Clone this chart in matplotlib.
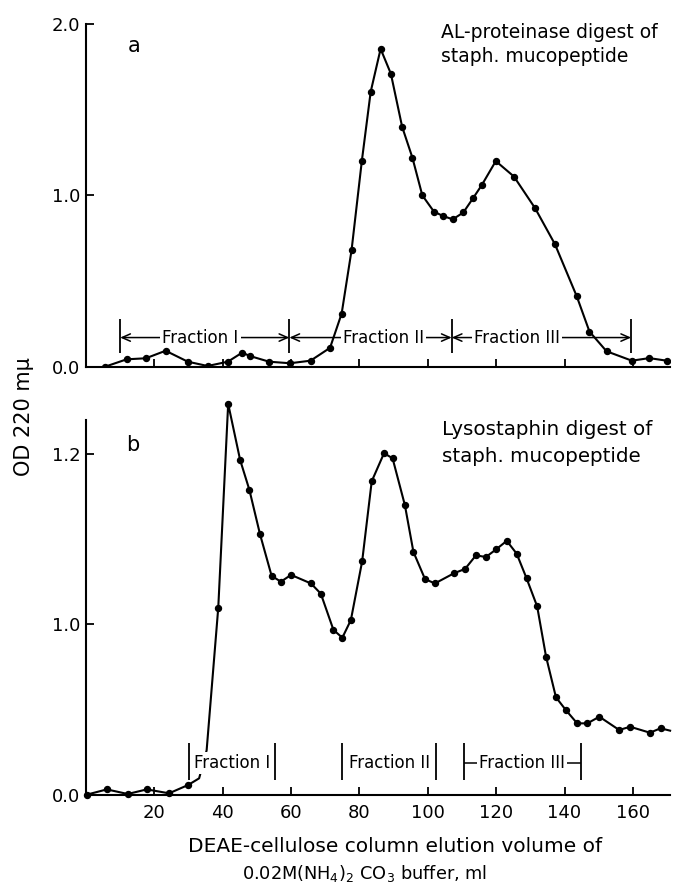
import numpy as np
import matplotlib
matplotlib.use('Agg')
import matplotlib.pyplot as plt

# -------------------------------------------
# DEAE-cellulose chromatography of staph. mucopeptide digests
# -------------------------------------------

# data: panel a (AL-proteinase digest)
vol_a = [5.6, 11.9, 17.5, 23.3, 29.8, 35.6, 41.5, 45.7, 48.0, 53.6, 59.7, 65.7,
         71.4, 74.8, 77.7, 80.7, 83.3, 86.2, 89.2, 92.5, 95.5, 98.4, 101.8, 104.4,
         107.3, 110.4, 113.3, 115.8, 119.9, 125.2, 131.4, 137.2, 143.6, 147.3,
         152.3, 159.7, 164.8, 169.9]
od_a = [0.00, 0.043, 0.049, 0.093, 0.029, 0.004, 0.029, 0.082, 0.062, 0.029, 0.02, 0.035,
        0.11, 0.31, 0.68, 1.20, 1.605, 1.855, 1.71, 1.40, 1.22, 1.00, 0.905, 0.88,
        0.86, 0.90, 0.985, 1.06, 1.20, 1.11, 0.925, 0.715, 0.41, 0.205,
        0.09, 0.035, 0.05, 0.035]

# data: panel b (Lysostaphin digest)
vol_b = [0.4, 6.1, 12.2, 17.8, 24.3, 29.9, 33.1, 35.3, 38.7, 41.6, 45.1, 47.8, 50.9,
         54.3, 57.0, 60.0, 65.8, 68.7, 72.4, 75.0, 77.5, 80.8, 83.6, 87.2, 89.7,
         93.3, 95.8, 99.2, 102.1, 107.7, 110.9, 114.1, 117.0, 120.0, 123.1, 126.0,
         128.9, 132.0, 134.6, 137.5, 140.4, 143.7, 146.7, 150.2, 156.0, 159.2,
         165.0, 168.1, 170.9]
od_b = [0.00, 0.03, 0.003, 0.03, 0.007, 0.056, 0.095, 0.26, 1.0195, 1.259, 1.193, 1.158, 1.106,
        1.057, 1.050, 1.058, 1.048, 1.036, 0.967, 0.921, 1.005, 1.074, 1.168, 1.201, 1.195,
        1.140, 1.085, 1.053, 1.048, 1.060, 1.065, 1.081, 1.079, 1.088, 1.098, 1.083,
        1.054, 1.021, 0.810, 0.571, 0.496, 0.418, 0.418, 0.457, 0.379, 0.398,
        0.363, 0.389, 0.375]
unmarked_b = [6, 7, 48]  # curve only, no measured point

# fraction limits (ml)
frac_labels = ['Fraction I', 'Fraction II', 'Fraction III']
frac_a = [10, 59.5, 107, 159.5]
frac_b = [(30.2, 55.2), (75.0, 102.5), (110.5, 144.8)]

xticks = [20, 40, 60, 80, 100, 120, 140, 160]


def fwd(y):
    y = np.asarray(y, dtype=float)
    return np.where(y <= 1.0, y, 1.0 + (y - 1.0) * 5.0)


def inv(u):
    u = np.asarray(u, dtype=float)
    return np.where(u <= 1.0, u, 1.0 + (u - 1.0) / 5.0)


plt.rcParams['font.family'] = 'DejaVu Sans'
fig = plt.figure(figsize=(6.76, 8.90), dpi=100)
ax1 = fig.add_axes([0.1272, 0.5880, 0.8646, 0.3850])
ax2 = fig.add_axes([0.1272, 0.1073, 0.8646, 0.4208])

for ax in (ax1, ax2):
    for s in ('top', 'right'):
        ax.spines[s].set_visible(False)
    for s in ('left', 'bottom'):
        ax.spines[s].set_linewidth(1.5)
    ax.set_xlim(0, 171)
    ax.set_xticks(xticks)
    ax.tick_params(direction='in', length=6, width=1.3, labelsize=13)
    ax.tick_params(axis='x', pad=7)
    ax.tick_params(axis='y', pad=4)

# panel a
ax1.plot(vol_a, od_a, '-', color='black', lw=1.5, marker='o', ms=4.3, zorder=4)
ax1.set_ylim(0, 2.0)
ax1.set_yticks([0, 1.0, 2.0])
ax1.set_yticklabels(['0.0', '1.0', '2.0'])
ax1.set_xticklabels([])
ax1.text(14, 1.87, 'a', fontsize=15, ha='center', va='center')
# va='baseline' puts the last line on y
ax1.text(104, 1.779, 'AL-proteinase digest of\nstaph. mucopeptide', fontsize=13.5,
         ha='left', va='baseline', linespacing=1.3)

y_arr = 0.17
ax1.vlines(frac_a, 0.08, 0.28, color='black', lw=1.3)
centers_a = [33.5, 87.0, 126.0]
for i in range(3):
    ax1.annotate('', xy=(frac_a[i], y_arr), xytext=(frac_a[i + 1], y_arr),
                 arrowprops=dict(arrowstyle='<->, head_length=0.5, head_width=0.22',
                                 lw=1.1, color='black', shrinkA=0, shrinkB=0,
                                 mutation_scale=12), zorder=2)
    ax1.text(centers_a[i], y_arr, frac_labels[i], fontsize=12, ha='center', va='center',
             bbox=dict(facecolor='white', edgecolor='none', pad=1.5), zorder=3)

# panel b
ax2.set_yscale('function', functions=(fwd, inv))
marks_b = [i for i in range(len(vol_b)) if i not in unmarked_b]
ax2.plot(vol_b, od_b, '-', color='black', lw=1.5, marker='o', ms=4.3,
         markevery=marks_b, zorder=3, clip_on=False)
ax2.set_ylim(0, 1.24)
ax2.set_yticks([0, 1.0, 1.2])
ax2.set_yticklabels(['0.0', '1.0', '1.2'])
ax2.minorticks_off()
ax2.set_xticklabels([str(t) for t in xticks])
ax2.text(13.8, 1.2107, 'b', fontsize=15, ha='center', va='center')
ax2.text(104.3, 1.1907, 'Lysostaphin digest of\nstaph. mucopeptide', fontsize=14.3,
         ha='left', va='baseline', linespacing=1.55)

y_lab = 0.185
for i, (x0, x1) in enumerate(frac_b):
    ax2.vlines([x0, x1], 0.085, 0.30, color='black', lw=1.3, zorder=5)
    if i == 2:
        ax2.hlines(y_lab, x0, x1, color='black', lw=1.1, zorder=4)
    ax2.text((x0 + x1) / 2, y_lab, frac_labels[i], fontsize=12, ha='center', va='center',
             bbox=dict(facecolor='white', edgecolor='none', pad=1.5), zorder=4.5)

# axis labels
fig.text(0.0355, 0.532, 'OD 220 m\u03bc', rotation=90, fontsize=15, ha='center', va='center')
fig.text(0.585, 0.0492, 'DEAE-cellulose column elution volume of', fontsize=14.5,
         ha='center', va='center')
fig.text(0.54, 0.018, r'0.02M(NH$_4$)$_2$ CO$_3$ buffer, ml', fontsize=12.8,
         ha='center', va='center')

fig.savefig('out.png', dpi=100)
